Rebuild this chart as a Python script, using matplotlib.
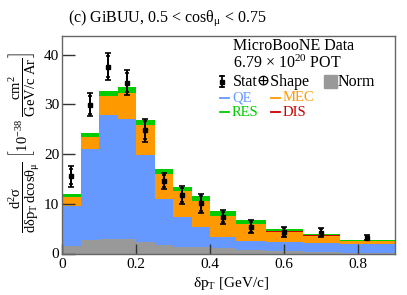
import matplotlib
matplotlib.use("Agg")
import matplotlib.pyplot as plt
from matplotlib.lines import Line2D
from matplotlib.patches import Rectangle
import numpy as np

plt.rcParams['font.family'] = ['Liberation Serif', 'DejaVu Serif']
plt.rcParams['mathtext.fontset'] = 'custom'
plt.rcParams['mathtext.rm'] = 'Liberation Serif'
plt.rcParams['mathtext.it'] = 'Liberation Serif:italic'
plt.rcParams['mathtext.bf'] = 'Liberation Serif:bold'

# ---- data ----
bin_edges = [0, 0.05, 0.1, 0.15, 0.2, 0.25, 0.3, 0.35, 0.4, 0.47, 0.55, 0.65, 0.75, 0.9]
qe = [9.6, 21.0, 27.8, 27.0, 19.8, 10.9, 7.3, 5.3, 3.3, 2.6, 2.3, 2.2, 2.0]
mec = [1.8, 2.5, 3.9, 5.3, 6.0, 5.0, 5.2, 5.2, 4.3, 3.35, 2.1, 1.4, 0.5]
dis = [0.03, 0.03, 0.03, 0.03, 0.03, 0.03, 0.03, 0.03, 0.03, 0.03, 0.03, 0.03, 0.03]
res = [0.5, 0.7, 0.9, 1.2, 1.1, 1.0, 0.9, 1.0, 0.9, 0.7, 0.5, 0.25, 0.2]
norm_unc = [1.6, 2.65, 3.0, 2.85, 2.4, 1.65, 1.4, 1.25, 1.05, 0.75, 0.45, 0.25, 0.1]
data = [15.5, 29.9, 37.6, 34.4, 24.8, 14.6, 11.8, 10.1, 7.3, 5.4, 4.3, 4.2, 3.2]
err_tot = [2.1, 2.3, 2.7, 2.6, 2.3, 1.65, 1.75, 1.95, 1.4, 1.3, 1.0, 0.85, 0.5]
err_stat = [1.6, 1.8, 2.1, 2.0, 1.8, 1.25, 1.35, 1.5, 1.05, 1.0, 0.75, 0.65, 0.35]
xticks = [0, 0.2, 0.4, 0.6, 0.8]
xticklabels = ['0', '0.2', '0.4', '0.6', '0.8']
yticks = [0, 10, 20, 30, 40]

c_qe = '#6699ff'
c_mec = '#ff9900'
c_res = '#00cc00'
c_dis = '#cc0000'
c_norm = '#999999'

W, H = 407, 295
fig = plt.figure(figsize=(W / 100, H / 100), dpi=100)
ax = fig.add_axes([62 / W, 1 - 253.5 / H, (395 - 62) / W, (253.5 - 36) / H])

edges = np.array(bin_edges)
base = np.zeros(len(qe))
for vals, col in [(qe, c_qe), (mec, c_mec), (dis, c_dis), (res, c_res)]:
    v = np.array(vals)
    ax.stairs(base + v, edges, baseline=base.copy(), fill=True, color=col, lw=0)
    base = base + v
ax.stairs(norm_unc, edges, baseline=0, fill=True, color=c_norm, lw=0)

centers = 0.5 * (edges[:-1] + edges[1:])
ax.errorbar(centers, data, yerr=err_tot, fmt='s', ms=2.5, color='k',
            elinewidth=1.4, capsize=2.2, capthick=1.2, zorder=5)
ax.errorbar(centers, data, yerr=err_stat, fmt='none', ecolor='k',
            elinewidth=1.4, capsize=1.6, capthick=1.2, zorder=5)

ax.set_xlim(0, 0.9)
ax.set_ylim(0, 43.76)
ax.set_xticks(xticks)
ax.set_xticklabels(xticklabels)
ax.set_yticks(yticks)
ax.tick_params(axis='both', direction='in', labelsize=11, colors='#333333',
               labelcolor='k')
ax.tick_params(axis='y', length=9, width=1, pad=2)
ax.tick_params(axis='x', length=7, width=1, pad=3)
for s in ax.spines.values():
    s.set_color('#666666')
    s.set_linewidth(1)

def px(x, y):
    return x / W, 1 - y / H

# title
fig.text(*px(68, 18), r'(c) GiBUU, 0.5 < cosθ$_{\mathrm{μ}}$ < 0.75',
         fontsize=11.5, ha='left', va='center')
# x label
fig.text(*px(231, 283), r'δp$_{\mathrm{T}}$ [GeV/c]', fontsize=11,
         ha='center', va='center')
# y label
ylab = (r'$\dfrac{\mathrm{d^{2}σ}}{\mathrm{dδp_{T}\,dcosθ_{μ}}}\ '
        r'\left[\mathrm{10^{-38}}\ \dfrac{\mathrm{cm^{2}}}{\mathrm{GeV/c\ Ar}}\right]$')
fig.text(*px(24, 143), ylab, fontsize=10.5, rotation=90, ha='center', va='center')

# legend
fs = 11.5
fig.text(*px(233, 46), 'MicroBooNE Data', fontsize=fs, ha='left', va='center')
fig.text(*px(233, 63), r'6.79 × 10$^{\mathrm{20}}$ POT', fontsize=fs, ha='left', va='center')
# stat shape icon
tr = fig.transFigure
xi = 221.7
for seg in [((xi, 76), (xi, 87)), ((xi - 2, 76), (xi + 2, 76)), ((xi - 2, 87), (xi + 2, 87))]:
    (x0, y0), (x1, y1) = seg
    fig.add_artist(Line2D([x0 / W, x1 / W], [1 - y0 / H, 1 - y1 / H],
                          color='k', lw=1.3, transform=tr))
fig.add_artist(Line2D([xi / W], [1 - 81.5 / H], marker='s', ms=2.5, color='k',
                      transform=tr))
fig.text(*px(233, 82), 'Stat⊕Shape', fontsize=fs, ha='left', va='center')
fig.add_artist(Rectangle((324 / W, 1 - 88 / H), 13 / W, 13 / H, color=c_norm,
                         transform=tr))
fig.text(*px(338, 82), 'Norm', fontsize=fs, ha='left', va='center')

fs2 = 10.5
for (xd, yrow, col, lab) in [(220, 97.5, c_qe, 'QE'), (271, 97.5, c_mec, 'MEC'),
                             (220, 112, c_res, 'RES'), (271, 112, c_dis, 'DIS')]:
    fig.add_artist(Line2D([xd / W, (xd + 9) / W], [1 - yrow / H, 1 - yrow / H],
                          color=col, lw=1.3, transform=tr))
    fig.text(*px(xd + 12, yrow), lab, fontsize=fs2, color=col, ha='left', va='center')

fig.savefig('out.png', dpi=100)
